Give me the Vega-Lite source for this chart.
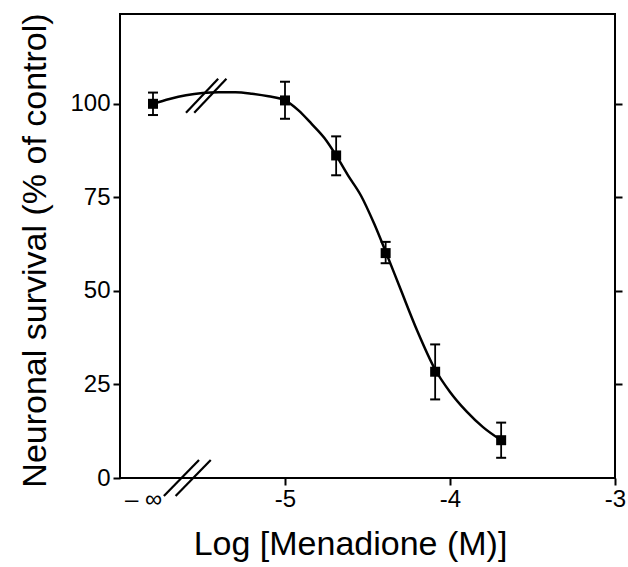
{
  "$schema": "https://vega.github.io/schema/vega-lite/v6.json",
  "width": 495,
  "height": 464,
  "autosize": {"type": "none"},
  "padding": {"left": 120, "top": 14, "right": 13, "bottom": 89},
  "background": "white",
  "config": {
    "view": {"stroke": "black", "strokeWidth": 2},
    "font": "Liberation Sans",
    "axis": {
      "domain": false,
      "grid": false,
      "tickColor": "black",
      "tickWidth": 2,
      "tickSize": 7,
      "labelFontSize": 24,
      "labelColor": "black",
      "labelFont": "Liberation Sans",
      "titleFont": "Liberation Sans",
      "titleFontSize": 34,
      "titleFontWeight": "normal",
      "titleColor": "black",
      "labelFlush": false,
      "labelOverlap": false,
      "labelBound": false
    }
  },
  "datasets": {
    "points": [
      {"logc": -5.8, "survival": 100, "lo": 97, "hi": 103},
      {"logc": -5.0, "survival": 100.9, "lo": 96, "hi": 105.9},
      {"logc": -4.69, "survival": 86.2, "lo": 80.9, "hi": 91.3},
      {"logc": -4.39, "survival": 60.1, "lo": 57.4, "hi": 63.1},
      {"logc": -4.09, "survival": 28.4, "lo": 21, "hi": 35.7},
      {"logc": -3.69, "survival": 10.1, "lo": 5.4, "hi": 14.8}
    ],
    "curve": [
      {"logc": -5.8, "fit": 100},
      {"logc": -5.7, "fit": 101.3},
      {"logc": -5.6, "fit": 102.3},
      {"logc": -5.5, "fit": 102.9},
      {"logc": -5.4, "fit": 103.1},
      {"logc": -5.3, "fit": 103.1},
      {"logc": -5.2, "fit": 102.7},
      {"logc": -5.1, "fit": 102.0},
      {"logc": -5.0, "fit": 100.9},
      {"logc": -4.92, "fit": 98.3},
      {"logc": -4.84, "fit": 94.7},
      {"logc": -4.76, "fit": 90.8},
      {"logc": -4.69, "fit": 86.2},
      {"logc": -4.62, "fit": 81},
      {"logc": -4.54, "fit": 75.5},
      {"logc": -4.46, "fit": 68},
      {"logc": -4.39, "fit": 60.5},
      {"logc": -4.3, "fit": 50.5},
      {"logc": -4.2, "fit": 39.5},
      {"logc": -4.09, "fit": 29},
      {"logc": -4.0, "fit": 23},
      {"logc": -3.9, "fit": 17.8},
      {"logc": -3.8, "fit": 13.6},
      {"logc": -3.69, "fit": 10.1}
    ],
    "breaks": [
      {"x1": -5.734, "y1": -4.8, "x2": -5.521, "y2": 4.8},
      {"x1": -5.663, "y1": -4.8, "x2": -5.45, "y2": 4.8},
      {"x1": -5.6, "y1": 97.6, "x2": -5.405, "y2": 106.7},
      {"x1": -5.55, "y1": 97.6, "x2": -5.355, "y2": 106.7}
    ]
  },
  "layer": [
    {
      "data": {"name": "curve"},
      "mark": {"type": "line", "color": "black", "strokeWidth": 2.5, "interpolate": "monotone"},
      "encoding": {
        "x": {
          "field": "logc", "type": "quantitative",
          "scale": {"domain": [-6, -3], "nice": false, "zero": false},
          "axis": {
            "values": [-5.86, -5, -4, -3],
            "labelExpr": "datum.value < -5.5 ? '– ∞' : '' + datum.value",
            "tickOpacity": {"condition": {"test": "datum.value < -5.5", "value": 0}, "value": 1},
            "labelPadding": 2,
            "title": "Log [Menadione (M)]",
            "titleX": 230,
            "titleY": 76,
            "titleBaseline": "alphabetic",
            "titleAlign": "center"
          }
        },
        "y": {
          "field": "fit", "type": "quantitative",
          "scale": {"domain": [0, 124], "nice": false, "zero": false},
          "axis": {
            "values": [0, 25, 50, 75, 100],
            "labelPadding": 3,
            "title": "Neuronal survival (% of control)",
            "titleX": -75,
            "titleY": 236,
            "titleBaseline": "alphabetic",
            "titleAlign": "center"
          }
        }
      }
    },
    {
      "data": {"name": "curve"},
      "mark": {"type": "line", "opacity": 0},
      "encoding": {
        "x": {"field": "logc", "type": "quantitative"},
        "y": {
          "field": "fit", "type": "quantitative",
          "scale": {"domain": [0, 124], "nice": false, "zero": false},
          "axis": {"orient": "right", "values": [25, 50, 75, 100], "labels": false, "title": null}
        }
      }
    },
    {
      "data": {"name": "breaks"},
      "mark": {"type": "rule", "color": "black", "strokeWidth": 2.2, "clip": false},
      "encoding": {
        "x": {"field": "x1", "type": "quantitative"},
        "y": {"field": "y1", "type": "quantitative", "axis": null},
        "x2": {"field": "x2"},
        "y2": {"field": "y2"}
      }
    },
    {
      "data": {"name": "points"},
      "mark": {"type": "rule", "color": "black", "strokeWidth": 1.8, "opacity": 1},
      "encoding": {
        "x": {"field": "logc", "type": "quantitative"},
        "y": {"field": "lo", "type": "quantitative", "axis": null},
        "y2": {"field": "hi"}
      }
    },
    {
      "data": {"name": "points"},
      "mark": {"type": "tick", "color": "black", "orient": "horizontal", "size": 10, "thickness": 2, "opacity": 1},
      "encoding": {
        "x": {"field": "logc", "type": "quantitative"},
        "y": {"field": "lo", "type": "quantitative", "axis": null}
      }
    },
    {
      "data": {"name": "points"},
      "mark": {"type": "tick", "color": "black", "orient": "horizontal", "size": 10, "thickness": 2, "opacity": 1},
      "encoding": {
        "x": {"field": "logc", "type": "quantitative"},
        "y": {"field": "hi", "type": "quantitative", "axis": null}
      }
    },
    {
      "data": {"name": "points"},
      "mark": {"type": "square", "color": "black", "filled": true, "opacity": 1, "size": 100},
      "encoding": {
        "x": {"field": "logc", "type": "quantitative"},
        "y": {"field": "survival", "type": "quantitative", "axis": null}
      }
    }
  ],
  "resolve": {"axis": {"y": "independent"}}
}
